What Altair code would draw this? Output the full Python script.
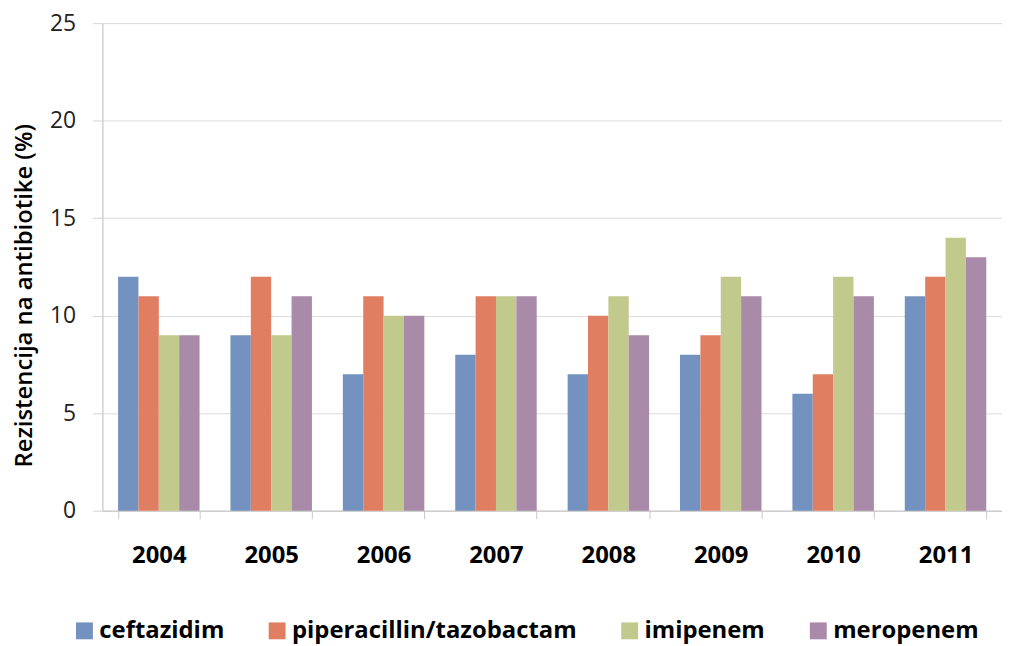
import altair as alt
import pandas as pd

years = ["2004", "2005", "2006", "2007", "2008", "2009", "2010", "2011"]
series = ["ceftazidim", "piperacillin/tazobactam", "imipenem", "meropenem"]
ceftazidim = [12, 9, 7, 8, 7, 8, 6, 11]
piperacillin = [11, 12, 11, 11, 10, 9, 7, 12]
imipenem = [9, 9, 10, 11, 11, 12, 12, 14]
meropenem = [9, 11, 10, 11, 9, 11, 11, 13]
colors = ["#7492c0", "#e07e62", "#c2c98c", "#a98aa9"]

rows = []
for s, vals in zip(series, [ceftazidim, piperacillin, imipenem, meropenem]):
    for y, v in zip(years, vals):
        rows.append({"year": y, "series": s, "value": v})
df = pd.DataFrame(rows)

font = "Open Sans"

chart = alt.Chart(df).mark_bar().encode(
    x=alt.X("year:N", sort=years, title=None,
            scale=alt.Scale(paddingInner=0.275, paddingOuter=0.14),
            axis=alt.Axis(labelAngle=0, labelFont=font, labelFontSize=24, labelFontWeight="bold",
                          labelColor="#000000", labelPadding=25, domainColor="#c8c8c8",
                          tickColor="#c8c8c8", tickBand="extent", tickSize=8)),
    xOffset=alt.XOffset("series:N", sort=series),
    y=alt.Y("value:Q", title="Rezistencija na antibiotike (%)",
            scale=alt.Scale(domain=[0, 25]),
            axis=alt.Axis(values=[0, 5, 10, 15, 20, 25], labelFont=font, labelFontSize=23,
                          labelColor="#222222", titleFont=font, titleFontSize=24,
                          titleFontWeight=600, titleColor="#000000", titlePadding=13,
                          titleY=274,
                          domainColor="#c8c8c8", tickColor="#d4d4d4", tickSize=10,
                          gridColor="#dcdcdc", labelPadding=17)),
    color=alt.Color("series:N", sort=series,
                    scale=alt.Scale(domain=series, range=colors),
                    legend=alt.Legend(title=None, orient="none", legendX=-30, legendY=600,
                                      direction="horizontal", columns=4,
                                      symbolType="square", symbolSize=289, symbolStrokeWidth=0,
                                      labelFont=font, labelFontSize=24, labelFontWeight="bold",
                                      labelColor="#000000", columnPadding=41, labelOffset=3,
                                      labelLimit=500)),
).properties(width=906, height=491, padding={"left": 4, "top": 2, "right": 0, "bottom": 0}
).configure_view(stroke=None).configure(background="white")

chart.save("out.html", embed_options={"renderer": "svg", "actions": False})
